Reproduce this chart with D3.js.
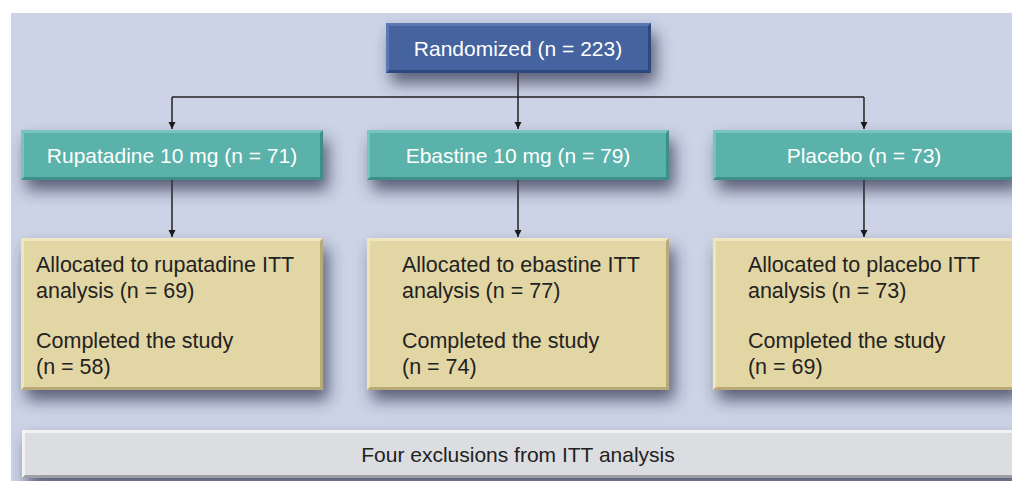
<!DOCTYPE html>
<html>
<head>
<meta charset="utf-8">
<script src="https://cdn.jsdelivr.net/npm/d3@7"></script>
<style>
  body { margin: 0; background: #fff; }
  svg { display: block; font-family: "Liberation Sans", Arial, sans-serif; }
</style>
</head>
<body>
<div id="chart"></div>
<script>
// study flow values
var randomizedN = 223;
var arms = ['Rupatadine 10 mg', 'Ebastine 10 mg', 'Placebo'];
var armN = [71, 79, 73];
var ittNames = ['rupatadine', 'ebastine', 'placebo'];
var ittN = [69, 77, 73];
var completedN = [58, 74, 69];
var exclusionText = 'Four exclusions from ITT analysis';

var width = 1012,
    height = 481;

var svg = d3.select('#chart').append('svg')
    .attr('width', width)
    .attr('height', height);

var defs = svg.append('defs');
var shadow = defs.append('filter').attr('id', 'shadow')
    .attr('x', '-10%').attr('y', '-20%').attr('width', '130%').attr('height', '170%');
shadow.append('feDropShadow')
    .attr('dx', 5).attr('dy', 10).attr('stdDeviation', 8)
    .attr('flood-color', '#30374f').attr('flood-opacity', 0.75);

var marker = defs.append('marker').attr('id', 'arrow')
    .attr('viewBox', '0 0 10 10').attr('refX', 10).attr('refY', 5)
    .attr('markerWidth', 7).attr('markerHeight', 10)
    .attr('markerUnits', 'userSpaceOnUse')
    .attr('orient', 'auto');
marker.append('path').attr('d', 'M0,0L10,5L0,10Z').attr('fill', '#1a1a1a');

// panel
svg.append('rect')
    .attr('x', 11).attr('y', 13)
    .attr('width', width - 11).attr('height', height - 13)
    .attr('fill', '#ccd3e6');

var x = d3.scaleBand()
    .domain(arms)
    .range([21, 1015])
    .paddingInner(0.127)
    .paddingOuter(0);

var y = {randTop: 23, randBottom: 73, bus: 97, armTop: 130, armBottom: 180,
         ittTop: 238, ittBottom: 390, exTop: 430, exBottom: 478};

// bevelled box helper
function box(g, x0, y0, w, h, fill, light, dark) {
  var b = 3;
  var grp = g.append('g').attr('filter', 'url(#shadow)');
  grp.append('rect').attr('x', x0).attr('y', y0).attr('width', w).attr('height', h).attr('fill', dark);
  grp.append('path')
      .attr('d', 'M' + x0 + ',' + y0 + 'H' + (x0 + w) + 'L' + (x0 + w - b) + ',' + (y0 + b) +
            'H' + (x0 + b) + 'V' + (y0 + h - b) + 'L' + x0 + ',' + (y0 + h) + 'Z')
      .attr('fill', light);
  grp.append('rect').attr('x', x0 + b).attr('y', y0 + b)
      .attr('width', w - 2 * b).attr('height', h - 2 * b).attr('fill', fill);
  return grp;
}

var cx = function(d) { return x(d) + x.bandwidth() / 2; };

// connectors
var lines = svg.append('g').attr('stroke', '#222').attr('stroke-width', 1.5).attr('fill', 'none');
lines.append('line').attr('x1', cx(arms[1])).attr('x2', cx(arms[1]))
    .attr('y1', y.randBottom).attr('y2', y.armTop - 1).attr('marker-end', 'url(#arrow)');
lines.append('line').attr('x1', cx(arms[0])).attr('x2', cx(arms[2]))
    .attr('y1', y.bus).attr('y2', y.bus);
lines.selectAll('.down').data([arms[0], arms[2]]).enter().append('line')
    .attr('class', 'down')
    .attr('x1', cx).attr('x2', cx)
    .attr('y1', y.bus).attr('y2', y.armTop - 1)
    .attr('marker-end', 'url(#arrow)');
lines.selectAll('.down2').data(arms).enter().append('line')
    .attr('class', 'down2')
    .attr('x1', cx).attr('x2', cx)
    .attr('y1', y.armBottom).attr('y2', y.ittTop - 1)
    .attr('marker-end', 'url(#arrow)');

// randomized box
box(svg, 386, y.randTop, 265, y.randBottom - y.randTop, '#44649e', '#5a79b0', '#2e4a80');
svg.append('text')
    .attr('x', 518).attr('y', (y.randTop + y.randBottom) / 2)
    .attr('dy', '0.36em').attr('text-anchor', 'middle')
    .attr('fill', '#fff').attr('font-size', 21)
    .text('Randomized (n = ' + randomizedN + ')');

// arm boxes
arms.forEach(function(a, i) {
  box(svg, x(a), y.armTop, x.bandwidth(), y.armBottom - y.armTop, '#5ab2aa', '#78c5bd', '#3d8f87');
  svg.append('text')
      .attr('x', cx(a)).attr('y', (y.armTop + y.armBottom) / 2)
      .attr('dy', '0.36em').attr('text-anchor', 'middle')
      .attr('fill', '#fff').attr('font-size', 21)
      .text(a + ' (n = ' + armN[i] + ')');
});

// ITT boxes
var textPad = [15, 35, 35];
arms.forEach(function(a, i) {
  box(svg, x(a), y.ittTop, x.bandwidth(), y.ittBottom - y.ittTop, '#e2d6a4', '#efe6c0', '#b7aa78');
  var t = svg.append('text')
      .attr('x', x(a) + textPad[i]).attr('y', 272)
      .attr('fill', '#222').attr('font-size', 21.5);
  var rows = ['Allocated to ' + ittNames[i] + ' ITT', 'analysis (n = ' + ittN[i] + ')',
              'Completed the study', '(n = ' + completedN[i] + ')'];
  var dy = [0, 26, 50, 26];
  rows.forEach(function(r, j) {
    t.append('tspan').attr('x', x(a) + textPad[i]).attr('dy', dy[j]).text(r);
  });
});

// exclusions
box(svg, 22, y.exTop, width + 10 - 22, y.exBottom - y.exTop, '#dcdde0', '#f2f2f3', '#9c9ea4');
svg.append('text')
    .attr('x', 518).attr('y', (y.exTop + y.exBottom) / 2)
    .attr('dy', '0.36em').attr('text-anchor', 'middle')
    .attr('fill', '#222').attr('font-size', 21)
    .text(exclusionText);
</script>
</body>
</html>
